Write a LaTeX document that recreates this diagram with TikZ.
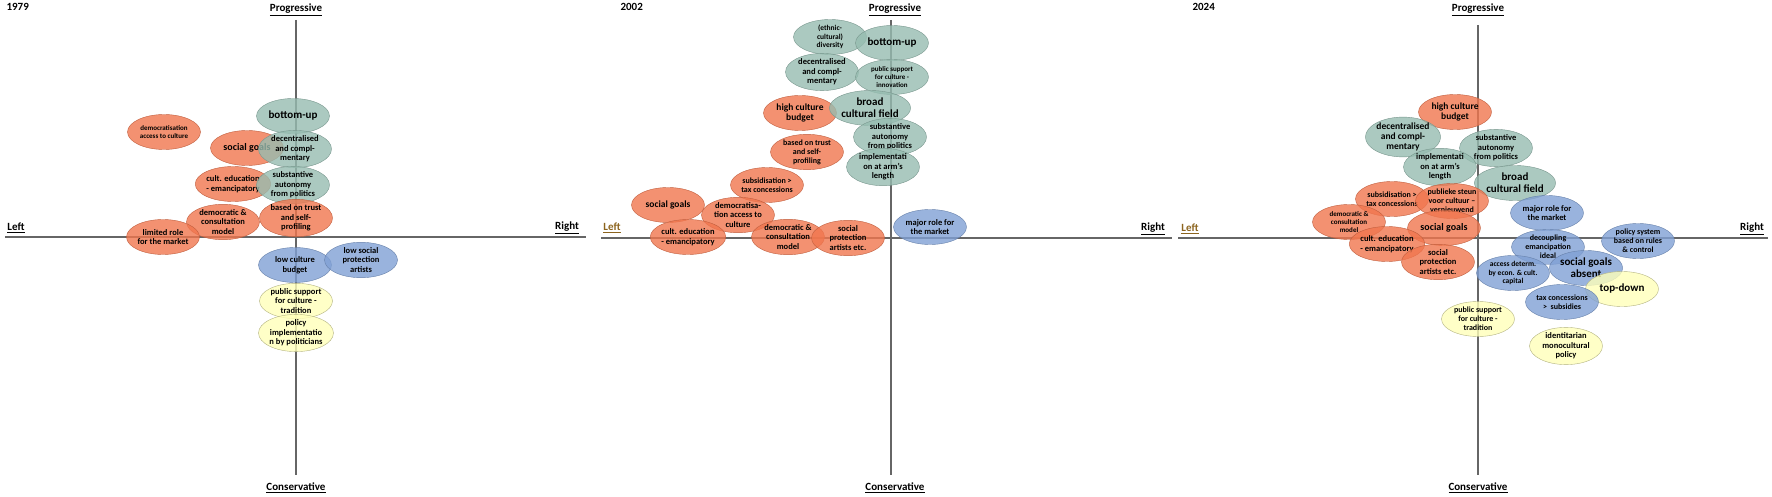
\documentclass[tikz,border=0pt]{standalone}
\usepackage{fontspec}
\setmainfont{Carlito}
\usetikzlibrary{shapes.geometric}
\definecolor{cor}{RGB}{240,118,78}
\definecolor{cte}{RGB}{150,188,176}
\definecolor{cbl}{RGB}{128,160,212}
\definecolor{cye}{RGB}{255,255,185}
\definecolor{brn}{RGB}{140,100,30}
\tikzset{
 el/.style={ellipse,minimum width=73pt,minimum height=35pt,inner sep=0pt,align=center,font=\bfseries\fontsize{8.5}{9.5}\selectfont,fill opacity=0.8,text opacity=1},
 or/.style={el,fill=cor,draw=cor!80!black},
 te/.style={el,fill=cte,draw=cte!80!black},
 bl/.style={el,fill=cbl,draw=cbl!80!black},
 ye/.style={el,fill=cye,draw=cye!70!black},
 big/.style={font=\bfseries\fontsize{11}{12}\selectfont},
 sml/.style={font=\bfseries\fontsize{7}{8}\selectfont},
 axl/.style={font=\bfseries\fontsize{11}{12}\selectfont},
 ax/.style={draw=black!60,line width=1.2pt},
}
\newcommand{\ul}[1]{\underline{#1}}
\begin{document}
\begin{tikzpicture}[x=1pt,y=-1pt]
\useasboundingbox (0,0) rectangle (1772,497);
% axes panel 1
\coordinate (a1t) at (296,20); \coordinate (a1b) at (296,475);
\coordinate (a1l) at (5,237); \coordinate (a1r) at (586,237);
\draw[ax] (a1t)--(a1b); \draw[ax] (a1l)--(a1r);
\node[axl,anchor=north west] (y1) at (3,0) {1979};
\node[axl] (p1) at (296,10) {\ul{Progressive}};
\node[axl] (c1) at (296,488) {\ul{Conservative}};
\node[axl] (l1) at (16,228) {\ul{Left}};
\node[axl] (r1) at (567,228) {\ul{Right}};
% axes panel 2
\coordinate (a2t) at (891,20); \coordinate (a2b) at (891,475);
\coordinate (a2l) at (601,238); \coordinate (a2r) at (1172,238);
\draw[ax] (a2t)--(a2b); \draw[ax] (a2l)--(a2r);
\node[axl,anchor=north west] (y2) at (617,0) {2002};
\node[axl] (p2) at (895,10) {\ul{Progressive}};
\node[axl] (c2) at (895,488) {\ul{Conservative}};
\node[axl,text=brn] (l2) at (612,228) {\ul{Left}};
\node[axl] (r2) at (1153,229) {\ul{Right}};
% axes panel 3
\coordinate (a3t) at (1478,25); \coordinate (a3b) at (1478,475);
\coordinate (a3l) at (1178,238); \coordinate (a3r) at (1768,238);
\draw[ax] (a3t)--(a3b); \draw[ax] (a3l)--(a3r);
\node[axl,anchor=north west] (y3) at (1189,0) {2024};
\node[axl] (p3) at (1478,10) {\ul{Progressive}};
\node[axl] (c3) at (1478,488) {\ul{Conservative}};
\node[axl,text=brn] (l3) at (1190,229) {\ul{Left}};
\node[axl] (r3) at (1752,229) {\ul{Right}};
% panel 1
\node[or,sml] (a) at (164,132) {democratisation\\access to culture};
\node[te,big] (b) at (293,116) {bottom-up};
\node[or,big,font=\bfseries\fontsize{10}{11}\selectfont] (c) at (247,148) {social goals};
\node[te] (d) at (295,149) {decentralised\\and compl-\\mentary};
\node[or] (e) at (233,184) {cult. education\\- emancipatory};
\node[te] (f) at (293,185) {substantive\\autonomy\\from politics};
\node[or] (g) at (223,222) {democratic \&\\consultation\\model};
\node[or] (h) at (296,218) {based on trust\\and self-\\profiling};
\node[or] (i) at (163,237) {limited role\\for the market};
\node[bl] (j) at (295,265) {low culture\\budget};
\node[bl] (k) at (361,260) {low social\\protection\\artists};
\node[ye] (l) at (296,301) {public support\\for culture -\\tradition};
\node[ye] (m) at (296,333) {policy\\implementatio\\n by politicians};
% panel 2
\node[te,sml,font=\bfseries\fontsize{7.5}{8.5}\selectfont] (n) at (830,37) {(ethnic-\\cultural)\\diversity};
\node[te,big] (o) at (892,43) {bottom-up};
\node[te] (p) at (822,72) {decentralised\\and compl-\\mentary};
\node[te,sml] (q) at (892,77) {public support\\for culture -\\innovation};
\node[or,font=\bfseries\fontsize{9.5}{10.5}\selectfont] (r) at (800,113) {high culture\\budget};
\node[te,big] (s) at (870,108) {broad\\cultural field};
\node[te] (t) at (890,137) {substantive\\autonomy\\from politics};
\node[or,font=\bfseries\fontsize{8}{9}\selectfont] (u) at (807,152) {based on trust\\and self-\\profiling};
\node[te] (v) at (883,167) {implementati\\on at arm's\\length};
\node[or,font=\bfseries\fontsize{8}{9}\selectfont] (w) at (767,185) {subsidisation >\\tax concessions};
\node[or,font=\bfseries\fontsize{9.5}{10.5}\selectfont] (x) at (668,205) {social goals};
\node[or] (yy) at (738,215) {democratisa-\\tion access to\\culture};
\node[or] (z) at (688,237) {cult. education\\- emancipatory};
\node[or] (aa) at (788,237) {democratic \&\\consultation\\model};
\node[or] (ab) at (848,238) {social\\protection\\artists etc.};
\node[bl] (ac) at (930,227) {major role for\\the market};
% panel 3
\node[or,font=\bfseries\fontsize{9.5}{10.5}\selectfont] (ad) at (1455,112) {high culture\\budget};
\node[te,font=\bfseries\fontsize{9.5}{10}\selectfont] (ae) at (1403,137) {decentralised\\and compl-\\mentary};
\node[te] (af) at (1496,148) {substantive\\autonomy\\from politics};
\node[te] (ag) at (1440,167) {implementati\\on at arm's\\length};
\node[te,big] (ah) at (1515,183) {broad\\cultural field};
\node[or,font=\bfseries\fontsize{8}{9}\selectfont] (ai) at (1392,199) {subsidisation >\\tax concessions};
\node[or,font=\bfseries\fontsize{8}{9}\selectfont] (aj) at (1452,201) {publieke steun\\voor cultuur --\\vernieuwend};
\node[or,sml] (ak) at (1349,222) {democratic \&\\consultation\\model};
\node[or,big,font=\bfseries\fontsize{10}{11}\selectfont] (al) at (1444,228) {social goals};
\node[bl] (am) at (1547,213) {major role for\\the market};
\node[or] (an) at (1387,244) {cult. education\\- emancipatory};
\node[bl,font=\bfseries\fontsize{8}{9}\selectfont] (ao) at (1548,247) {decoupling\\emancipation\\ideal};
\node[bl,font=\bfseries\fontsize{8}{9}\selectfont] (ap) at (1638,241) {policy system\\based on rules\\\& control};
\node[or] (aq) at (1438,262) {social\\protection\\artists etc.};
\node[bl,font=\bfseries\fontsize{7.5}{8.5}\selectfont] (ar) at (1513,273) {access determ.\\by econ. \& cult.\\capital};
\node[bl,big] (as) at (1586,268) {social goals\\absent};
\node[ye,big] (at) at (1622,289) {top-down};
\node[bl,font=\bfseries\fontsize{8}{9}\selectfont] (au) at (1562,302) {tax concessions\\>\ \ subsidies};
\node[ye,font=\bfseries\fontsize{8}{9}\selectfont] (av) at (1478,319) {public support\\for culture -\\tradition};
\node[ye] (aw) at (1566,346) {identitarian\\monocultural\\policy};
\end{tikzpicture}
\end{document}
